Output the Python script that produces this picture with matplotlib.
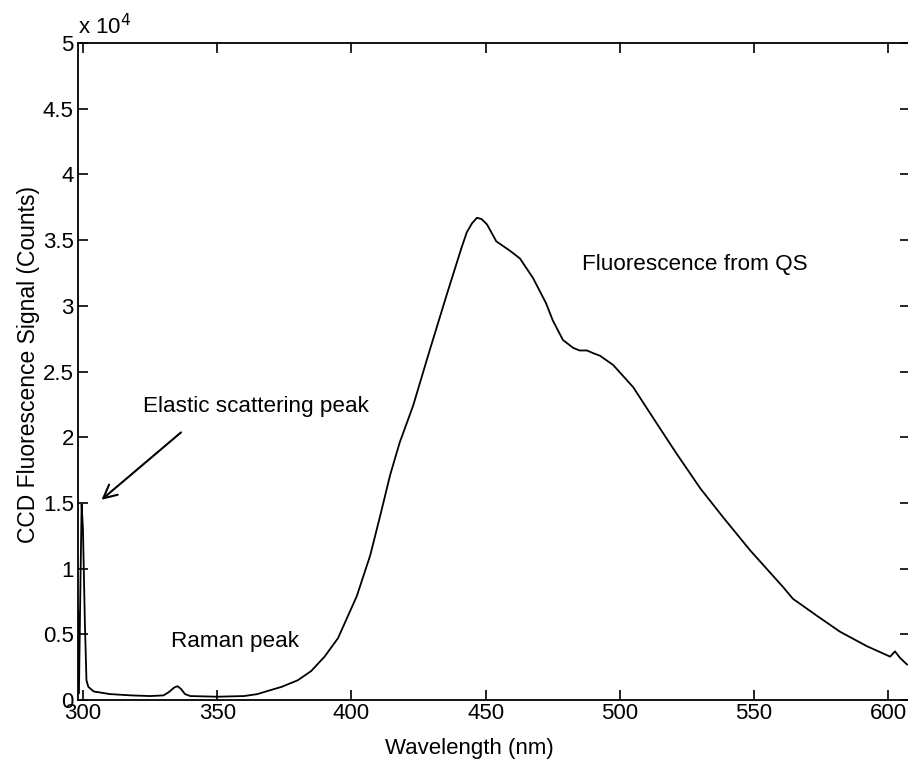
import matplotlib
matplotlib.use("Agg")
import matplotlib.pyplot as plt
from matplotlib.ticker import FuncFormatter

plt.rcParams['font.family'] = ['Liberation Sans', 'DejaVu Sans']

# Wavelength (nm)
wavelength = [298.2, 298.5, 299.0, 299.5, 300.0, 300.7, 301.3, 302, 304, 310, 318, 325, 330,
              332, 334, 335.2, 336.5, 338, 340, 350, 360, 365, 369, 374, 380, 385, 390, 395,
              402, 407, 410.7, 414.4, 418, 423, 429, 435.6, 441, 443, 445, 446.8, 448.5, 450.5,
              454, 459, 462.8, 467.7, 472.5, 475, 478.8, 482.6, 485, 487.8, 490, 492.6, 497.5,
              505, 513.9, 521.3, 530, 538.5, 548.5, 560.8, 564.5, 573.5, 582, 592, 600.7,
              602.5, 604.4, 607]
# CCD signal (x 10^4 counts)
signal_e4 = [0.68, 0.05, 0.80, 1.49, 1.30, 0.60, 0.15, 0.10, 0.065, 0.045, 0.035, 0.030, 0.035,
             0.060, 0.095, 0.105, 0.085, 0.045, 0.030, 0.025, 0.030, 0.045, 0.070, 0.10, 0.15,
             0.22, 0.33, 0.47, 0.79, 1.10, 1.40, 1.71, 1.96, 2.24, 2.65, 3.09, 3.44, 3.56, 3.63,
             3.67, 3.66, 3.62, 3.49, 3.42, 3.36, 3.21, 3.02, 2.89, 2.74, 2.68, 2.66, 2.66, 2.64,
             2.62, 2.55, 2.38, 2.10, 1.87, 1.61, 1.39, 1.14, 0.86, 0.77, 0.64, 0.52, 0.41, 0.33,
             0.37, 0.32, 0.27]
signal = [v * 1e4 for v in signal_e4]

xticks = [300, 350, 400, 450, 500, 550, 600]
yticks = [0, 5000, 10000, 15000, 20000, 25000, 30000, 35000, 40000, 45000, 50000]

W, H = 908, 759
fig = plt.figure(figsize=(W / 100, H / 100), dpi=100)
ax = fig.add_axes([78 / W, (H - 700) / H, (910 - 78) / W, (700 - 43) / H])

ax.plot(wavelength, signal, color='black', lw=1.3)

ax.set_xlim(298.15, 608.1)
ax.set_ylim(0, 50000)
ax.set_xticks(xticks)
ax.set_yticks(yticks)
ax.yaxis.set_major_formatter(FuncFormatter(lambda v, p: f"{v / 1e4:g}"))
ax.tick_params(direction='in', top=True, right=True, length=7, width=1.2,
               labelsize=16)
ax.tick_params(axis='y', pad=3)
ax.tick_params(axis='x', pad=2)
for s in ax.spines.values():
    s.set_linewidth(1.3)

ax.set_xlabel("Wavelength (nm)", fontsize=16)
ax.xaxis.set_label_coords(0.47, -0.058)
ax.set_ylabel("CCD Fluorescence Signal (Counts)", fontsize=16.5)
ax.yaxis.set_label_coords(-0.046, 0.51)
ax.text(0.0, 1.006, "x 10$^4$", transform=ax.transAxes, fontsize=16,
        ha='left', va='bottom')

ax.text(143 / W, 1 - 412 / H, "Elastic scattering peak", transform=fig.transFigure,
        fontsize=16.2, ha='left', va='baseline')
ax.text(171 / W, 1 - 647 / H, "Raman peak", transform=fig.transFigure,
        fontsize=16.2, ha='left', va='baseline')
ax.text(582 / W, 1 - 270 / H, "Fluorescence from QS", transform=fig.transFigure,
        fontsize=16.2, ha='left', va='baseline')

ax.annotate("", xy=(306.1, 15100), xytext=(337.3, 20500),
            arrowprops=dict(arrowstyle='->', lw=1.5, color='black', mutation_scale=24))

fig.savefig("out.png", dpi=100)
